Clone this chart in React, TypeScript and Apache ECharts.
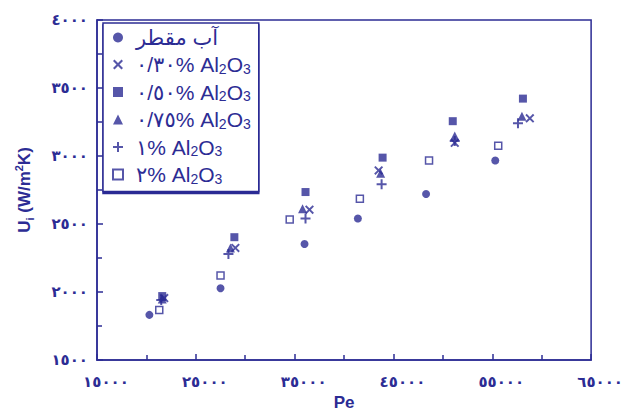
import React, { useEffect, useRef } from 'react';
import * as echarts from 'echarts';

const NAVY = '#2c2c94';

// Pe (x) and U_i (y) values per series
const waterPe = [20300, 27500, 36000, 41400, 48300, 55300];
const waterU = [1832, 2027, 2353, 2540, 2721, 2967];

const al030Pe = [21800, 29000, 36500, 43500, 51200, 58800];
const al030U = [1955, 2324, 2605, 2894, 3097, 3277];

const al050Pe = [21600, 28900, 36100, 43900, 51000, 58100];
const al050U = [1970, 2403, 2735, 2988, 3256, 3422];

const al075Pe = [21600, 28500, 35800, 43700, 51200, 58000];
const al075U = [1948, 2324, 2613, 2873, 3147, 3292];

const al1Pe = [21500, 28300, 36100, 43800, 51200, 57600];
const al1U = [1941, 2280, 2540, 2793, 3111, 3241];

const al2Pe = [21300, 27500, 34500, 41600, 48600, 55600];
const al2U = [1868, 2121, 2533, 2685, 2967, 3075];

const seriesNames = ['آب مقطر', '٠/٣٠%', '٠/٥٠%', '٠/٧٥%', '١%', '٢%'];

const xMin = 15000;
const xMax = 65000;
const xStep = 10000;
const yMin = 1500;
const yMax = 4000;
const yStep = 500;

const toArabicDigits = (v: number | string) =>
  String(v).replace(/\d/g, (d) => '٠١٢٣٤٥٦٧٨٩'[+d]);

const pairs = (xs: number[], ys: number[]) => xs.map((x, i) => [x, ys[i]]);

const PLUS = 'path://M4,0H6V4H10V6H6V10H4V6H0V4H4Z';
const CROSS =
  'path://M1.5,0L5,3.5L8.5,0L10,1.5L6.5,5L10,8.5L8.5,10L5,6.5L1.5,10L0,8.5L3.5,5L0,1.5Z';

const FONT = '"Liberation Sans", "DejaVu Sans", Arial, sans-serif';
const DIGIT_FONT = '"DejaVu Sans", "Liberation Sans", sans-serif';

export default function App() {
  const ref = useRef<HTMLDivElement>(null);

  useEffect(() => {
    if (!ref.current) return;
    const chart = echarts.init(ref.current, undefined, { renderer: 'svg' });

    const mk = (
      name: string,
      data: number[][],
      symbol: string,
      size: number,
      itemStyle: any
    ) => ({
      type: 'scatter',
      name,
      data,
      symbol,
      symbolSize: size,
      symbolKeepAspect: true,
      itemStyle,
      z: 3,
    });

    const tickStyle = { color: NAVY, width: 1.5 };

    chart.setOption({
      animation: false,
      backgroundColor: '#ffffff',
      textStyle: { fontFamily: FONT },
      grid: {
        left: 97,
        right: 28,
        top: 20,
        bottom: 50,
        show: true,
        borderColor: NAVY,
        borderWidth: 1.5,
      },
      legend: {
        left: 103,
        top: 23,
        orient: 'vertical',
        selectedMode: false,
        backgroundColor: '#ffffff',
        borderColor: NAVY,
        borderWidth: 1.5,
        shadowColor: NAVY,
        shadowBlur: 0,
        shadowOffsetX: 0,
        shadowOffsetY: 2,
        padding: [4, 8, 6, 9],
        itemWidth: 10,
        itemHeight: 10,
        itemGap: 6,
        symbolKeepAspect: true,
        data: seriesNames,
        formatter: (name: string) =>
          name === seriesNames[0]
            ? `{f|${name}}`
            : `{f|${name} Al}{s|2}{t|O}{s|3}`,
        textStyle: {
          color: NAVY,
          fontFamily: FONT,
          rich: {
            f: {
              fontSize: 21,
              lineHeight: 22,
              color: NAVY,
              fontFamily: FONT,
              padding: [0, 0, 0, 8],
            },
            t: { fontSize: 21, lineHeight: 22, color: NAVY, fontFamily: FONT },
            s: {
              fontSize: 14,
              lineHeight: 12,
              verticalAlign: 'bottom',
              color: NAVY,
              fontFamily: FONT,
            },
          },
        },
      },
      xAxis: {
        type: 'value',
        min: xMin,
        max: xMax,
        interval: xStep,
        name: 'Pe',
        nameLocation: 'middle',
        nameGap: 34,
        nameTextStyle: {
          color: NAVY,
          fontSize: 17,
          fontWeight: 'bold',
          fontFamily: FONT,
        },
        axisLine: { show: true, lineStyle: { color: NAVY, width: 1.5 } },
        axisTick: { show: true, inside: true, length: 6, lineStyle: tickStyle },
        minorTick: { show: true, splitNumber: 2, length: 5, lineStyle: tickStyle },
        splitLine: { show: false },
        axisLabel: {
          color: NAVY,
          fontSize: 15,
          fontWeight: 'bold',
          fontFamily: DIGIT_FONT,
          margin: 14,
          padding: [0, 0, 0, 18],
          formatter: (v: number) => toArabicDigits(v),
        },
      },
      yAxis: {
        type: 'value',
        min: yMin,
        max: yMax,
        interval: yStep,
        name: '{b|U}{sub|i}{b| (W/m}{sup|2}{b|K)}',
        nameLocation: 'middle',
        nameRotate: 90,
        nameGap: 62,
        nameTextStyle: {
          color: NAVY,
          fontFamily: FONT,
          rich: {
            b: { fontSize: 17, fontWeight: 'bold', lineHeight: 22, color: NAVY, fontFamily: FONT },
            sub: {
              fontSize: 11,
              fontWeight: 'bold',
              lineHeight: 11,
              verticalAlign: 'bottom',
              color: NAVY,
              fontFamily: FONT,
            },
            sup: {
              fontSize: 11,
              fontWeight: 'bold',
              lineHeight: 11,
              verticalAlign: 'top',
              color: NAVY,
              fontFamily: FONT,
            },
          },
        },
        axisLine: { show: true, lineStyle: { color: NAVY, width: 1.5 } },
        axisTick: { show: true, inside: true, length: 6, lineStyle: tickStyle },
        minorTick: { show: true, splitNumber: 2, length: 5, lineStyle: tickStyle },
        splitLine: { show: false },
        axisLabel: {
          color: NAVY,
          fontSize: 15,
          fontWeight: 'bold',
          fontFamily: DIGIT_FONT,
          margin: 9,
          formatter: (v: number) => toArabicDigits(v),
        },
      },
      series: [
        mk(seriesNames[0], pairs(waterPe, waterU), 'circle', 8, { color: NAVY }),
        mk(seriesNames[1], pairs(al030Pe, al030U), CROSS, 9, { color: NAVY }),
        mk(seriesNames[2], pairs(al050Pe, al050U), 'rect', 8, { color: NAVY }),
        mk(seriesNames[3], pairs(al075Pe, al075U), 'triangle', 9, { color: NAVY }),
        mk(seriesNames[4], pairs(al1Pe, al1U), PLUS, 10, { color: NAVY }),
        mk(seriesNames[5], pairs(al2Pe, al2U), 'rect', 7, {
          color: '#ffffff',
          borderColor: NAVY,
          borderWidth: 1.5,
        }),
      ],
    });

    return () => chart.dispose();
  }, []);

  return (
    <div
      ref={ref}
      style={{ position: 'absolute', left: 0, top: 0, width: 626, height: 416 }}
    />
  );
}
